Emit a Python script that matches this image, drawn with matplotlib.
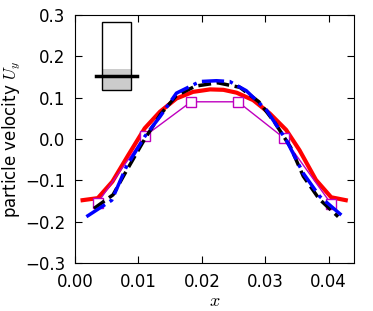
import matplotlib
matplotlib.use('Agg')
import matplotlib.pyplot as plt
from matplotlib.patches import Rectangle

# red solid line
x_red = [0.0012, 0.0036, 0.0059, 0.0084, 0.0110, 0.0134, 0.0160, 0.0186, 0.0213,
         0.0234, 0.0255, 0.0281, 0.0307, 0.0333, 0.0354, 0.0380, 0.0404, 0.0427]
u_red = [-0.148, -0.143, -0.103, -0.039, 0.026, 0.066, 0.098, 0.114, 0.120,
         0.119, 0.112, 0.094, 0.062, 0.022, -0.027, -0.099, -0.141, -0.148]

# black dashed line
x_black = [0.0030, 0.0060, 0.0080, 0.0110, 0.0135, 0.0160, 0.0190, 0.0225,
           0.0260, 0.0290, 0.0315, 0.0340, 0.0360, 0.0385, 0.0415]
u_black = [-0.168, -0.135, -0.080, 0.000, 0.060, 0.105, 0.128, 0.136,
           0.125, 0.090, 0.040, -0.020, -0.090, -0.145, -0.188]

# blue dash-dot line
x_blue = [0.0018, 0.0058, 0.0081, 0.0110, 0.0134, 0.0160, 0.0197, 0.0223,
          0.0244, 0.0270, 0.0302, 0.0333, 0.0360, 0.0386, 0.0420]
u_blue = [-0.188, -0.148, -0.067, 0.006, 0.054, 0.111, 0.139, 0.141,
          0.139, 0.117, 0.070, -0.002, -0.083, -0.139, -0.184]

# magenta squares
x_mag = [0.0036, 0.0110, 0.0183, 0.0257, 0.0329, 0.0404]
u_mag = [-0.154, 0.007, 0.090, 0.090, 0.003, -0.157]

# inset bar (x0, x1, bottom, top), grey fill top, mean line (x0, x1, y)
bar_x = [0.0043, 0.0088]
bar_y = [0.118, 0.282]
fill_top = 0.169
mean_line = [0.0033, 0.0098, 0.153]

plt.rcParams['xtick.direction'] = 'in'
plt.rcParams['ytick.direction'] = 'in'
plt.rcParams['xtick.top'] = True
plt.rcParams['ytick.right'] = True
plt.rcParams['xtick.major.size'] = 5
plt.rcParams['ytick.major.size'] = 5
plt.rcParams['mathtext.fontset'] = 'cm'

fig = plt.figure(figsize=(3.73, 3.11), dpi=100)
ax = fig.add_axes([75 / 373, 1 - 263 / 311, (354 - 75) / 373, (263 - 15) / 311])

ax.plot(x_red, u_red, color='red', lw=3)
ax.plot(x_mag, u_mag, color='m', lw=1, marker='s', markersize=7,
        markerfacecolor='white', markeredgecolor='m')
ax.plot(x_black, u_black, color='black', lw=2.5, ls='--')
ax.plot(x_blue, u_blue, color='blue', lw=2.5, ls='-.')

ax.add_patch(Rectangle((bar_x[0], bar_y[0]), bar_x[1] - bar_x[0], fill_top - bar_y[0],
                       facecolor='0.8', edgecolor='none'))
ax.add_patch(Rectangle((bar_x[0], bar_y[0]), bar_x[1] - bar_x[0], bar_y[1] - bar_y[0],
                       facecolor='none', edgecolor='black', lw=1))
ax.plot(mean_line[:2], [mean_line[2]] * 2, color='black', lw=2.5)

ax.set_xlim(0, 0.044)
ax.set_ylim(-0.3, 0.3)
ax.set_xticks([0.0, 0.01, 0.02, 0.03, 0.04])
ax.set_xticklabels(['0.00', '0.01', '0.02', '0.03', '0.04'])
ax.set_yticks([-0.3, -0.2, -0.1, 0.0, 0.1, 0.2, 0.3])
ax.set_yticklabels(['\u22120.3', '\u22120.2', '\u22120.1', '0.0', '0.1', '0.2', '0.3'])
ax.tick_params(labelsize=12)
ax.tick_params(axis='x', pad=7)
ax.tick_params(axis='y', pad=7)
ax.set_xlabel('$x$', fontsize=13)
ax.xaxis.set_label_coords(0.5, -0.115)
ax.set_ylabel('particle velocity $U_y$', fontsize=12)
ax.yaxis.set_label_coords(-0.185, 0.5)

fig.savefig('out.png', dpi=100)
